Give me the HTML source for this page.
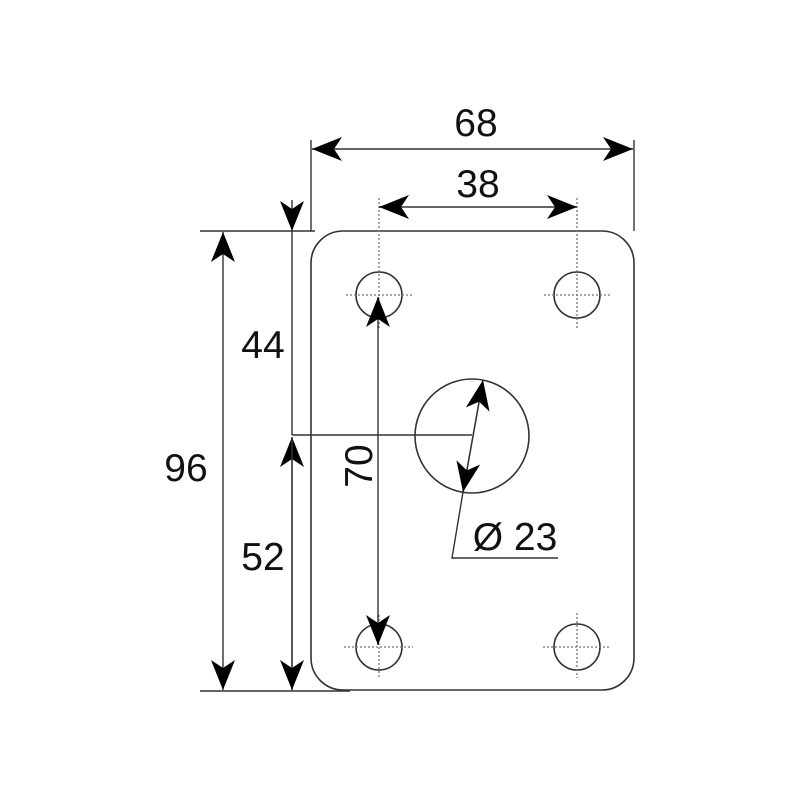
<!DOCTYPE html>
<html><head><style>body{margin:0;background:#fff}svg{display:block}</style></head><body>
<svg width="800" height="800" viewBox="0 0 800 800" xmlns="http://www.w3.org/2000/svg">
<defs>
<marker id="a" viewBox="0 0 30 24" refX="30" refY="12" markerWidth="30" markerHeight="24" markerUnits="userSpaceOnUse" orient="auto-start-reverse">
<path d="M30 12 L0 0 L8 12 L0 24 Z" fill="#000"/>
</marker>
</defs>
<g fill="none" stroke="#333" stroke-width="1.6">
<rect x="311" y="231" width="323" height="459" rx="32" ry="32"/>
<circle cx="379" cy="295" r="23"/>
<circle cx="577" cy="295" r="23"/>
<circle cx="379" cy="647" r="23"/>
<circle cx="577" cy="647" r="23"/>
<circle cx="472" cy="436" r="57"/>
</g>
<g stroke="#777" stroke-width="1.3" stroke-dasharray="2,2" fill="none">
<line x1="379" y1="198" x2="379" y2="330"/><line x1="577" y1="198" x2="577" y2="330"/>
<line x1="346" y1="295" x2="413" y2="295"/><line x1="544" y1="295" x2="611" y2="295"/>
<line x1="379" y1="615" x2="379" y2="678"/><line x1="577" y1="613" x2="577" y2="678"/>
<line x1="344" y1="647" x2="413" y2="647"/><line x1="543" y1="647" x2="611" y2="647"/>
</g>
<g stroke="#333" stroke-width="1.4" fill="none">
<line x1="311" y1="140" x2="311" y2="231"/><line x1="634" y1="140" x2="634" y2="231"/>
<line x1="200" y1="231" x2="315" y2="231"/>
<line x1="200" y1="691" x2="350" y2="691"/>
<line x1="292" y1="435" x2="472" y2="435"/>
<line x1="483" y1="380" x2="463" y2="492"/>
<polyline points="463,492 452,558 558,558"/>
<line x1="312" y1="149" x2="633" y2="149" marker-start="url(#a)" marker-end="url(#a)"/>
<line x1="379" y1="207" x2="577" y2="207" marker-start="url(#a)" marker-end="url(#a)"/>
<line x1="223" y1="232" x2="223" y2="690" marker-start="url(#a)" marker-end="url(#a)"/>
<line x1="292" y1="200" x2="292" y2="231" marker-end="url(#a)"/>
<line x1="292" y1="231" x2="292" y2="435"/>
<line x1="292" y1="690" x2="292" y2="437" marker-end="url(#a)"/>
<line x1="292" y1="437" x2="292" y2="690" marker-end="url(#a)"/>
<line x1="378" y1="297" x2="378" y2="645" marker-start="url(#a)" marker-end="url(#a)"/>
<line x1="483" y1="380" x2="463" y2="492" marker-start="url(#a)" marker-end="url(#a)"/>
</g>
<g font-family="Liberation Sans, sans-serif" font-size="39" fill="#111" text-anchor="middle">
<text x="476" y="136">68</text>
<text x="478" y="197">38</text>
<text x="186" y="481">96</text>
<text x="263" y="358">44</text>
<text x="263" y="570">52</text>
<text x="515" y="550">Ø 23</text>
<text transform="translate(372,466) rotate(-90)">70</text>
</g>
</svg>
</body></html>
